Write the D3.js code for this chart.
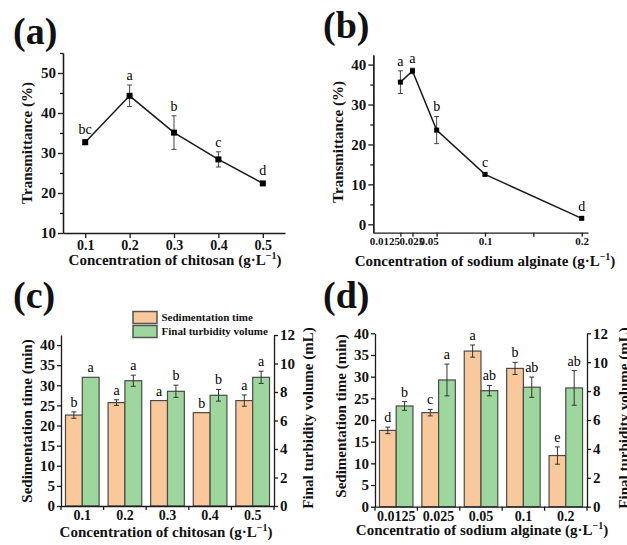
<!DOCTYPE html>
<html>
<head>
<meta charset="utf-8">
<script src="https://cdn.jsdelivr.net/npm/d3@7"></script>
<style>
  body { margin: 0; background: #fff; }
  svg text { font-family: "Liberation Serif", "Times New Roman", serif; }
</style>
</head>
<body>
<svg id="fig" width="627" height="545"></svg>
<script>
// ---- data ----
var chitosan = [0.1, 0.2, 0.3, 0.4, 0.5];
var chitosanLabels = ['0.1', '0.2', '0.3', '0.4', '0.5'];
var transA = [32.7, 44.3, 35.1, 28.4, 22.4];
var transAErr = [0.6, 2.7, 4.2, 1.9, 0.4];
var transALetters = ['bc', 'a', 'b', 'c', 'd'];

var alginate = [0.0125, 0.025, 0.05, 0.1, 0.2];
var alginateLabels = ['0.0125', '0.025', '0.05', '0.1', '0.2'];
var transB = [35.6, 38.4, 23.6, 12.5, 1.5];
var transBErr = [2.85, 0.7, 3.4, 0.3, 0.3];
var transBLetters = ['a', 'a', 'b', 'c', 'd'];

var sedC = [22.6, 25.7, 26.2, 23.2, 26.2];
var sedCErr = [0.8, 0.7, 0, 0, 1.4];
var sedCLetters = ['b', 'a', 'a', 'b', 'a'];
var volC = [9.03, 8.79, 8.05, 7.77, 9.03];
var volCErr = [0, 0.39, 0.43, 0.41, 0.43];
var volCLetters = ['a', 'a', 'b', 'b', 'a'];

var sedD = [17.6, 21.7, 35.9, 31.9, 11.8];
var sedDErr = [0.75, 0.75, 1.4, 1.4, 2.0];
var sedDLetters = ['d', 'c', 'a', 'b', 'e'];
var volD = [6.97, 8.77, 8.03, 8.27, 8.22];
var volDErr = [0.3, 1.1, 0.36, 0.7, 1.2];
var volDLetters = ['b', 'a', 'ab', 'ab', 'ab'];

var seriesNames = ['Sedimentation time', 'Final turbidity volume'];

var SERIF = '"Liberation Serif", "Times New Roman", serif';
var INK = '#1a1a1a';
var ORANGE = '#f9c89b';
var GREEN = '#9dd79d';

var svg = d3.select('#fig');

function styleAxis(g, fs) {
  g.attr('font-family', SERIF).attr('font-size', fs).attr('font-weight', 'bold');
  g.selectAll('path, line').attr('stroke', INK).attr('stroke-width', 1.3);
  g.selectAll('text').attr('fill', '#111');
}

function panelTag(txt, x, y) {
  svg.append('text')
    .attr('x', x).attr('y', y)
    .attr('font-size', '38px')
    .attr('font-weight', 'bold')
    .attr('fill', '#111')
    .text(txt);
}

// axis title with the g·L^-1 superscript
function unitTitle(x, y, label) {
  var t = svg.append('text')
    .attr('x', x).attr('y', y)
    .attr('text-anchor', 'middle')
    .attr('font-size', '15px')
    .attr('font-weight', 'bold')
    .attr('fill', '#111');
  t.append('tspan').text(label + ' (g\u00b7L');
  t.append('tspan').attr('dy', -6).attr('font-size', '10px').text('\u22121');
  t.append('tspan').attr('dy', 6).text(')');
}

function yTitle(x, y, label) {
  svg.append('text')
    .attr('transform', 'translate(' + x + ',' + y + ') rotate(-90)')
    .attr('text-anchor', 'middle')
    .attr('font-size', '15px')
    .attr('font-weight', 'bold')
    .attr('fill', '#111')
    .text(label);
}

function letterAt(x, y, txt) {
  svg.append('text')
    .attr('x', x).attr('y', y)
    .attr('text-anchor', 'middle')
    .attr('font-size', '14px')
    .attr('fill', '#000')
    .text(txt);
}

// ---- line panels (a), (b) ----
function linePanel(xs, ys, errs, letters, x, y, markSize) {
  var g = svg.append('g');
  var line = d3.line()
    .x(function(d, i) { return x(xs[i]); })
    .y(function(d) { return y(d); });

  g.append('path')
    .datum(ys)
    .attr('d', line)
    .attr('fill', 'none')
    .attr('stroke', INK)
    .attr('stroke-width', 1.5);

  ys.forEach(function(v, i) {
    var cx = x(xs[i]);
    var top = y(v + errs[i]), bot = y(v - errs[i]);
    g.append('line').attr('x1', cx).attr('x2', cx).attr('y1', top).attr('y2', bot)
      .attr('stroke', '#444').attr('stroke-width', 1);
    [top, bot].forEach(function(yy) {
      g.append('line').attr('x1', cx - 2.5).attr('x2', cx + 2.5).attr('y1', yy).attr('y2', yy)
        .attr('stroke', '#444').attr('stroke-width', 1);
    });
    g.append('rect')
      .attr('x', cx - markSize / 2).attr('y', y(v) - markSize / 2)
      .attr('width', markSize).attr('height', markSize)
      .attr('fill', '#000');
    letterAt(cx, Math.min(top, y(v) - markSize / 2) - 5, letters[i]);
  });
}

// (a)
var xA = d3.scaleLinear().domain([0.05, 0.55]).range([63, 285]);
var yA = d3.scaleLinear().domain([10, 55]).range([233, 53]);

var gAy = svg.append('g').attr('transform', 'translate(63,0)')
  .call(d3.axisLeft(yA).tickValues([10, 20, 30, 40, 50]).tickSize(5).tickSizeOuter(0).tickPadding(2));
styleAxis(gAy, 15);
var gAy2 = svg.append('g').attr('transform', 'translate(63,0)')
  .call(d3.axisLeft(yA).tickValues([15, 25, 35, 45, 55]).tickSize(3).tickSizeOuter(0).tickFormat(''));
styleAxis(gAy2, 15);
var gAx = svg.append('g').attr('transform', 'translate(0,233)')
  .call(d3.axisBottom(xA).tickValues(chitosan).tickSize(5).tickSizeOuter(0).tickPadding(2)
    .tickFormat(function(d, i) { return chitosanLabels[i]; }));
styleAxis(gAx, 14);

linePanel(chitosan, transA, transAErr, transALetters, xA, yA, 6);
panelTag('(a)', 13, 44);
unitTitle(175, 265, 'Concentration of chitosan');
yTitle(32, 143, 'Transmittance (%)');

// (b)
var xB = d3.scaleLinear().domain([-0.0155, 0.2065]).range([373.3, 588]);
var yB = d3.scaleLinear().domain([-2.1, 42.4]).range([232.7, 55]);

var gBy = svg.append('g').attr('transform', 'translate(373.3,0)')
  .call(d3.axisLeft(yB).tickValues([0, 10, 20, 30, 40]).tickSize(5).tickSizeOuter(0).tickPadding(2));
styleAxis(gBy, 15);
var gBy2 = svg.append('g').attr('transform', 'translate(373.3,0)')
  .call(d3.axisLeft(yB).tickValues([5, 15, 25, 35]).tickSize(3).tickSizeOuter(0).tickFormat(''));
styleAxis(gBy2, 15);
var gBx = svg.append('g').attr('transform', 'translate(0,232.7)')
  .call(d3.axisBottom(xB).tickValues(alginate.concat([0.15])).tickSize(4).tickSizeOuter(0).tickPadding(1)
    .tickFormat(function(d, i) { return i < alginateLabels.length ? alginateLabels[i] : ''; }));
styleAxis(gBx, 11);
// crowded labels on the left are nudged like in the original
var nudge = [-16, -1, -8, 0, 0];
gBx.selectAll('.tick text').attr('dx', function(d, i) { return i < nudge.length ? nudge[i] : 0; });

linePanel(alginate, transB, transBErr, transBLetters, xB, yB, 5);
panelTag('(b)', 323, 38);
unitTitle(485, 266, 'Concentration of sodium alginate');
yTitle(343, 142, 'Transmittance (%)');

// ---- bar panels (c), (d) ----
function barPanel(cats, left, right, bottom, top, yLmax, sed, sedErr, sedLet, vol, volErr, volLet) {
  var x = d3.scaleBand().domain(cats).range([left, right]).padding(0);
  var yL = d3.scaleLinear().domain([0, yLmax]).range([bottom, top]);
  var yR = d3.scaleLinear().domain([0, 12]).range([bottom, top]);
  var bw = x.bandwidth() * 0.395;

  var g = svg.append('g');

  function bars(vals, errs, lets, sc, off, fill) {
    vals.forEach(function(v, i) {
      var bx = x(cats[i]) + x.bandwidth() / 2 + off;
      g.append('rect')
        .attr('x', bx).attr('y', sc(v))
        .attr('width', bw).attr('height', bottom - sc(v))
        .attr('fill', fill)
        .attr('stroke', '#4a4a4a')
        .attr('stroke-width', 1.2);
      var cx = bx + bw / 2;
      var t = sc(v + errs[i]);
      if (errs[i] > 0) {
        var b = sc(v - errs[i]);
        g.append('line').attr('x1', cx).attr('x2', cx).attr('y1', t).attr('y2', b)
          .attr('stroke', '#333').attr('stroke-width', 1);
        [t, b].forEach(function(yy) {
          g.append('line').attr('x1', cx - 2.5).attr('x2', cx + 2.5).attr('y1', yy).attr('y2', yy)
            .attr('stroke', '#333').attr('stroke-width', 1);
        });
      }
      letterAt(cx, t - 5, lets[i]);
    });
  }
  bars(sed, sedErr, sedLet, yL, -bw, ORANGE);
  bars(vol, volErr, volLet, yR, 0, GREEN);

  var gl = svg.append('g').attr('transform', 'translate(' + left + ',0)')
    .call(d3.axisLeft(yL).tickValues(d3.range(0, 41, 5)).tickSize(4).tickSizeOuter(0).tickPadding(2));
  styleAxis(gl, 15);
  var gr = svg.append('g').attr('transform', 'translate(' + right + ',0)')
    .call(d3.axisRight(yR).tickValues(d3.range(0, 13, 2)).tickSize(4).tickSizeOuter(0).tickPadding(2));
  styleAxis(gr, 15);
  var gb = svg.append('g').attr('transform', 'translate(0,' + bottom + ')')
    .call(d3.axisBottom(x).tickSize(0).tickSizeOuter(0).tickPadding(4));
  styleAxis(gb, 14);
  // ticks sit on the band edges
  var edges = cats.map(function(c) { return x(c); }).concat([right]);
  gb.selectAll('.edge').data(edges).enter().append('line')
    .attr('class', 'edge')
    .attr('x1', function(d) { return d; }).attr('x2', function(d) { return d; })
    .attr('y1', 0).attr('y2', 4)
    .attr('stroke', INK).attr('stroke-width', 1.3);
}

// (c)
barPanel(chitosanLabels, 61, 274, 506, 335, 42.5, sedC, sedCErr, sedCLetters, volC, volCErr, volCLetters);
panelTag('(c)', 13, 308);
unitTitle(166, 537, 'Concentration of chitosan');
yTitle(32, 421, 'Sedimentation time (min)');
yTitle(313, 418, 'Final turbidity volume (mL)');

// legend of (c)
var legend = svg.append('g');
[ORANGE, GREEN].forEach(function(c, i) {
  legend.append('rect')
    .attr('x', 133).attr('y', 311.5 + i * 14)
    .attr('width', 24).attr('height', 12)
    .attr('fill', c).attr('stroke', '#555').attr('stroke-width', 1.5);
  legend.append('text')
    .attr('x', 161.5).attr('y', 321 + i * 14)
    .attr('font-size', '11px').attr('font-weight', 'bold').attr('fill', '#111')
    .text(seriesNames[i]);
});

// (d)
barPanel(alginateLabels, 375, 587, 506.7, 333.3, 40, sedD, sedDErr, sedDLetters, volD, volDErr, volDLetters);
panelTag('(d)', 323, 308);
unitTitle(482, 535, 'Concentratio of sodium alginate');
yTitle(346, 416, 'Sedimentation time (min)');
yTitle(629, 418, 'Final turbidity volume (mL)');
</script>
</body>
</html>
